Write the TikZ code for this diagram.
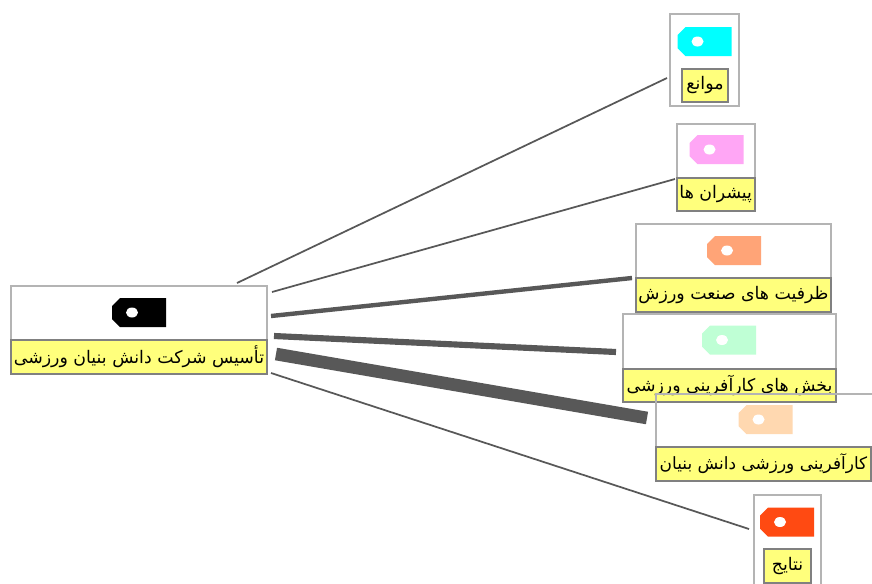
\documentclass[tikz,border=0pt]{standalone}
\usepackage{fontspec}
\TeXXeTstate=1
\newfontfamily\arabicfont[Script=Arabic]{DejaVu Sans}
\definecolor{cardline}{HTML}{B4B4B4}
\definecolor{labelline}{HTML}{808080}
\definecolor{labelfill}{HTML}{FFFF7C}
\definecolor{linkcol}{HTML}{585858}
\definecolor{tagcyan}{HTML}{00FFFF}
\definecolor{tagpink}{HTML}{FFA6F5}
\definecolor{tagorange}{HTML}{FFA477}
\definecolor{tagmint}{HTML}{BFFFD5}
\definecolor{tagpeach}{HTML}{FFD8B0}
\definecolor{tagred}{HTML}{FF4A12}
\tikzset{
  x=0.75pt,y=-0.75pt,
  card/.style={draw=cardline,line width=1.5pt,inner sep=0pt,outer sep=0pt,anchor=north west},
  lab/.style={draw=labelline,line width=1.5pt,fill=labelfill,inner sep=0pt,outer sep=0pt,anchor=north west,text=black,font=\arabicfont\fontsize{13}{15}\selectfont},
  linkthin/.style={draw=linkcol,line width=1.3pt},
  linkmid/.style={draw=linkcol,line width=3.3pt},
  linkthick/.style={draw=linkcol,line width=4.6pt},
  linkheavy/.style={draw=linkcol,line width=9.5pt}
}
\newcommand{\tagicon}[3]{%
  \fill[#3] (#1+8,#2) -- (#1+54,#2) -- (#1+54,#2+29) -- (#1+8,#2+29) -- (#1,#2+21) -- (#1,#2+8) -- cycle;
  \fill[white] (#1+20,#2+14.5) ellipse[x radius=6,y radius=5];
}
\newcommand{\arlabel}[1]{\beginR #1\endR}
\begin{document}
\begin{tikzpicture}
\useasboundingbox (0,0) rectangle (872,583);
\fill[white] (0,0) rectangle (872,583);
% cards
\node[card,minimum width=69*0.75pt,minimum height=92*0.75pt] (c1) at (670,14) {};
\node[card,minimum width=77.5*0.75pt,minimum height=87.5*0.75pt] (c2) at (677,123.5) {};
\node[card,minimum width=195*0.75pt,minimum height=88*0.75pt] (c3) at (636,224) {};
\node[card,minimum width=213*0.75pt,minimum height=88*0.75pt] (c4) at (623,313.5) {};
\node[card,minimum width=67*0.75pt,minimum height=100*0.75pt] (c6) at (754,495) {};
\node[card,minimum width=256*0.75pt,minimum height=88*0.75pt] (root) at (11,286) {};
% tags
\tagicon{112}{298}{black}
\tagicon{677.5}{27}{tagcyan}
\tagicon{689.5}{135}{tagpink}
\tagicon{707}{236}{tagorange}
\tagicon{702}{325.5}{tagmint}
\tagicon{738.5}{405}{tagpeach}
\tagicon{760}{507.5}{tagred}
% labels
\node[lab,minimum width=46*0.75pt,minimum height=33*0.75pt] (l1) at (682,69) {\arlabel{موانع}};
\node[lab,minimum width=77.5*0.75pt,minimum height=33*0.75pt] (l2) at (677,178) {\arlabel{پیشران ها}};
\node[lab,minimum width=195*0.75pt,minimum height=34*0.75pt] (l3) at (636,278) {\arlabel{ظرفیت های صنعت ورزش}};
\node[lab,minimum width=213*0.75pt,minimum height=33*0.75pt] (l4) at (623,368.5) {\raisebox{1.5pt}{\arlabel{بخش های کارآفرینی ورزشی}}};
% this card lies over the label above it and is not filled
\node[card,minimum width=230*0.75pt,minimum height=87.5*0.75pt] (c5) at (656,393.5) {};
\node[lab,minimum width=215*0.75pt,minimum height=34*0.75pt,font=\arabicfont\fontsize{12.7}{15}\selectfont] (l5) at (656,447) {\arlabel{کارآفرینی ورزشی دانش بنیان}};
\node[lab,minimum width=47*0.75pt,minimum height=34*0.75pt] (l6) at (764,549) {\arlabel{نتایج}};
\node[lab,minimum width=256*0.75pt,minimum height=34*0.75pt] (rootlab) at (11,340) {\arlabel{تأسیس شرکت دانش بنیان ورزشی}};
% connectors
\draw[linkthin] ([shift={(-30,-3)}]root.north east) -- ([shift={(-3,64)}]c1.north west);
\draw[linkthin] ([shift={(5,6)}]root.north east) -- ([shift={(-2,55.5)}]c2.north west);
\draw[linkmid] ([shift={(4,30)}]root.north east) -- ([shift={(-4,54)}]c3.north west);
\draw[linkthick] ([shift={(7,50)}]root.north east) -- ([shift={(-7,38.5)}]c4.north west);
\draw[linkheavy] ([shift={(9,68)}]root.north east) -- ([shift={(-9,24.5)}]c5.north west);
\draw[linkthin] ([shift={(4,87)}]root.north east) -- ([shift={(-5,34)}]c6.north west);
\end{tikzpicture}
\end{document}
